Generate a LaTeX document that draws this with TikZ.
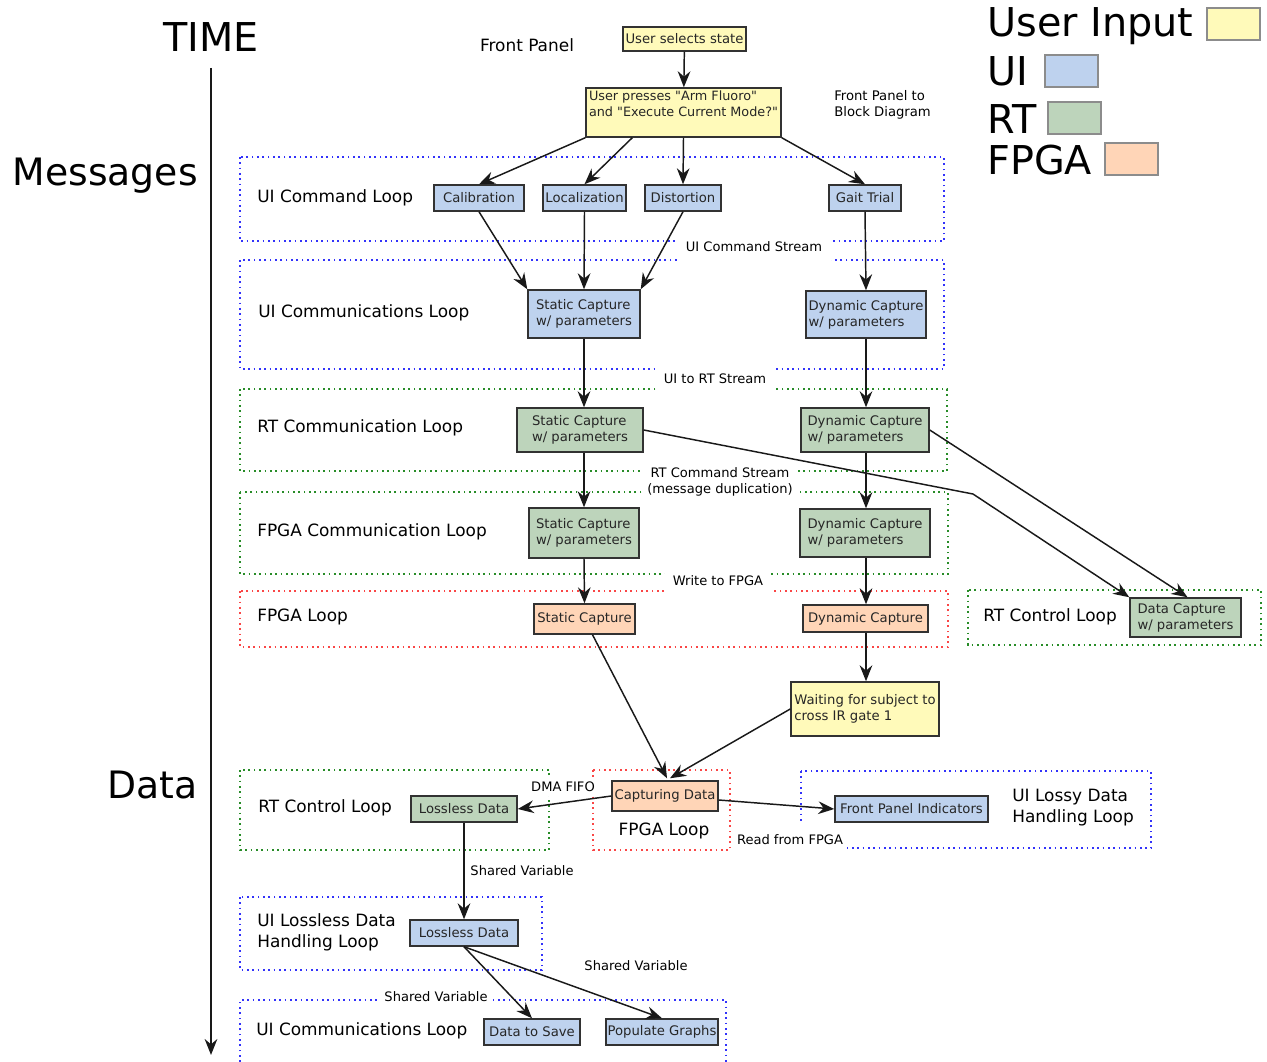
\documentclass[tikz,border=0pt]{standalone}
\usepackage{fontspec}
\setmainfont{DejaVu Sans}
\usetikzlibrary{arrows.meta,calc}

\definecolor{cyellow}{RGB}{255,250,186}
\definecolor{cblue}{RGB}{190,210,238}
\definecolor{cgreen}{RGB}{189,212,187}
\definecolor{corange}{RGB}{255,213,183}
\definecolor{dblue}{RGB}{50,50,250}
\definecolor{dgreen}{RGB}{40,140,40}
\definecolor{dred}{RGB}{250,70,70}
\definecolor{edge}{RGB}{50,50,50}

\newcommand{\boxfont}{\fontsize{9.9}{12}\selectfont}
\newcommand{\loopfont}{\fontsize{12.7}{15.8}\selectfont}
\newcommand{\streamfont}{\fontsize{9.8}{12}\selectfont}
\newcommand{\bigfont}{\fontsize{29.8}{34}\selectfont}
\newcommand{\midfont}{\fontsize{28.3}{34}\selectfont}

\tikzset{
  % place a node by its corner coordinates (x1,y1,x2,y2)
  span/.style n args={4}{at={({(#1+#3)/2},{(#2+#4)/2})},
    minimum width={(#3-#1)*0.75pt}, minimum height={(#4-#2)*0.75pt}},
  blk/.style={draw=edge, line width=1.1pt, inner sep=0pt, font=\boxfont, text=black!85, align=left},
  ybox/.style={blk, fill=cyellow},
  ubox/.style={blk, fill=cblue},
  rbox/.style={blk, fill=cgreen},
  fbox/.style={blk, fill=corange},
  loopline/.style={line width=1.3pt, dash pattern=on 1.3pt off 2.7pt},
  uiloop/.style={loopline, draw=dblue},
  rtloop/.style={loopline, draw=dgreen},
  fploop/.style={loopline, draw=dred},
  looplabel/.style={font=\loopfont, inner sep=0pt, anchor=west, align=left},
  stream/.style={font=\streamfont, fill=white, inner sep=0pt, align=center},
  tip/.style={-{Stealth[length=12pt,width=9.5pt,inset=4pt]}},
  flow/.style={draw=black!90, line width=1.1pt, tip},
  legbox/.style={draw=black!45, line width=0.8pt},
}

\begin{document}
\begin{tikzpicture}[x=0.75pt,y=-0.75pt]
\useasboundingbox (0,0) rectangle (1267,1062);

% ---------- time axis and section headings ----------
\node[font=\bigfont, inner sep=0pt, anchor=base] (time) at (211,52) {TIME};
\node[font=\midfont, inner sep=0pt, anchor=base east] (msg) at (198,186) {Messages};
\node[font=\midfont, inner sep=0pt, anchor=base east] (data) at (198,798) {Data};
\coordinate (t0) at (211,68);
\coordinate (t1) at (211,1055);
\draw[flow] (t0) -- (t1);

% ---------- legend ----------
\node[font=\bigfont, inner sep=0pt, anchor=base west] (lgU) at (987,37) {User Input};
\node[font=\bigfont, inner sep=0pt, anchor=base west] (lgI) at (987,86) {UI};
\node[font=\bigfont, inner sep=0pt, anchor=base west] (lgR) at (987,134) {RT};
\node[font=\bigfont, inner sep=0pt, anchor=base west] (lgF) at (987,175) {FPGA};
\draw[legbox, fill=cyellow] (1207,8) rectangle (1260,40);
\draw[legbox, fill=cblue] (1045,55) rectangle (1098,87);
\draw[legbox, fill=cgreen] (1048,102) rectangle (1101,134);
\draw[legbox, fill=corange] (1105,143) rectangle (1158,175);

% ---------- loop containers ----------
\draw[uiloop] (240,157) rectangle (944,241);
\draw[uiloop] (240,260) rectangle (944,369);
\draw[rtloop] (240,389) rectangle (947,471);
\draw[rtloop] (240,492) rectangle (948,574);
\draw[fploop] (240,591) rectangle (948,647);
\draw[rtloop] (968,590) rectangle (1261,645);
\draw[rtloop] (240,770) rectangle (549,850);
\draw[fploop] (593,770) rectangle (730,850);
\draw[uiloop] (801,771) rectangle (1151,848);
\draw[uiloop] (240,897) rectangle (542,970);
\draw[uiloop] (240,1062) -- (240,1000) -- (726,1000) -- (726,1062);

% ---------- stream labels between loops ----------
\node[stream, minimum width=116pt, minimum height=27pt] (s1) at (754,247) {UI Command Stream};
\node[stream, minimum width=87pt, minimum height=22.5pt] (s2) at (715,379) {UI to RT Stream};
\node[stream, minimum width=115.5pt, minimum height=26pt] (s3) at (720,482) {RT Command Stream\\(message duplication)};
\node[stream, minimum width=79pt, minimum height=22.5pt] (s4) at (718,581) {Write to FPGA};
\node[stream, minimum width=86pt, minimum height=24pt] (s5) at (790,840) {Read from FPGA};
\node[stream, minimum width=85.5pt, minimum height=18pt] (s6) at (436,997) {Shared Variable};
\node[stream, inner xsep=3pt, inner ysep=3pt] (s7) at (563,787) {DMA FIFO};
\node[stream, fill=none] (s8) at (522,871) {Shared Variable};
\node[stream, fill=none] (s9) at (636,966) {Shared Variable};

% ---------- loop labels ----------
\node[font=\loopfont, inner sep=0pt] (fp) at (527,45) {Front Panel};
\node[font=\boxfont, inner sep=0pt, anchor=west, align=left] (fp2bd) at (834,105) {Front Panel to\\Block Diagram};
\node[looplabel] (l1) at (257,198) {UI Command Loop};
\node[looplabel] (l2) at (258,313) {UI Communications Loop};
\node[looplabel] (l3) at (257,428) {RT Communication Loop};
\node[looplabel] (l4) at (257,532) {FPGA Communication Loop};
\node[looplabel] (l5) at (257,617) {FPGA Loop};
\node[looplabel] (l6) at (983,617) {RT Control Loop};
\node[looplabel] (l7) at (258,808) {RT Control Loop};
\node[font=\loopfont, inner sep=0pt] (l8) at (664,831) {FPGA Loop};
\node[looplabel] (l9) at (1012,808) {UI Lossy Data\\Handling Loop};
\node[looplabel] (l10) at (257,932) {UI Lossless Data\\Handling Loop};
\node[looplabel] (l11) at (256,1031) {UI Communications Loop};

% ---------- blocks ----------
\node[ybox, span={623}{27}{746}{51}] (sel) {User selects state};
\node[ybox, span={586}{88}{781}{137}, font=\fontsize{9.6}{12}\selectfont] (press) {User presses \textquotedbl Arm Fluoro\textquotedbl\\and \textquotedbl Execute Current Mode?\textquotedbl\\[1pt]\mbox{}};
\node[ubox, span={434}{185}{524}{211}] (cal) {Calibration};
\node[ubox, span={543}{185}{626}{211}] (loc) {Localization};
\node[ubox, span={645}{185}{721}{211}] (dist) {Distortion};
\node[ubox, span={829}{185}{901}{211}] (gait) {Gait Trial};

\node[ubox, span={528}{290}{640}{338}] (sUI) {Static Capture\\w/ parameters};
\node[ubox, span={806}{291}{926}{338}] (dUI) {Dynamic Capture\\w/ parameters};
\node[rbox, span={517}{408}{643}{452}] (sRT) {Static Capture\\w/ parameters};
\node[rbox, span={801}{408}{929}{452}] (dRT) {Dynamic Capture\\w/ parameters};
\node[rbox, span={529}{508}{639}{558}] (sFC) {Static Capture\\w/ parameters};
\node[rbox, span={800}{509}{930}{557}] (dFC) {Dynamic Capture\\w/ parameters};
\node[fbox, span={534}{604}{635}{634}] (sF) {Static Capture};
\node[fbox, span={803}{605}{928}{632}] (dF) {Dynamic Capture};
\node[rbox, span={1130}{598}{1241}{637}] (dcap) {Data Capture\\w/ parameters};
\node[ybox, span={791}{682}{939}{736}] (wait) {Waiting for subject to\\cross IR gate 1};

\node[fbox, span={612}{781}{718}{811}] (cap) {Capturing Data};
\node[rbox, span={411}{796}{517}{822}] (lossG) {Lossless Data};
\node[ubox, span={835}{796}{988}{822}] (fpi) {Front Panel Indicators};
\node[ubox, span={410}{920}{518}{946}] (lossU) {Lossless Data};
\node[ubox, span={484}{1019}{580}{1045}] (save) {Data to Save};
\node[ubox, span={606}{1019}{718}{1045}] (graphs) {Populate Graphs};

% ---------- connectors ----------
\draw[flow] (sel) -- (press);
\draw[flow] (press.south west) -- (cal.north);
\draw[flow] ($(press.south west)+(47,0)$) -- (loc.north);
\draw[flow] (press.south) -- (dist.north);
\draw[flow] (press.south east) -- (gait.north);

\draw[flow] (cal.south) -- (sUI.north west);
\draw[flow] (loc.south) -- (sUI.north);
\draw[flow] (dist.south) -- (sUI.north east);
\draw[flow] (gait.south) -- (dUI.north);

\draw[flow] (sUI.south) -- (sUI.south |- sRT.north);
\draw[flow] (dUI.south) -- (dUI.south |- dRT.north);
\draw[flow] (sUI.south |- sRT.south) -- (sFC.north);
\draw[flow] (dUI.south |- dRT.south) -- (dUI.south |- dFC.north);
\draw[flow] (sFC.south) -- (sF.north);
\draw[flow] (dUI.south |- dFC.south) -- (dUI.south |- dF.north);

\coordinate (bend) at (973,494);
\draw[flow] (sRT.east) -- (bend) -- (dcap.north west);
\draw[flow] (dRT.east) -- ($(dcap.north)+(2,0)$);

\draw[flow] (dUI.south |- dF.south) -- (dUI.south |- wait.north);
\draw[flow] ($(sF.south)+(8,0)$) -- ($(cap.north)+(2,-2)$);
\draw[flow] (wait.west) -- ($(cap.north)+(5,-2)$);

\draw[flow] (cap.west) -- (lossG.east);
\draw[flow] ($(cap.east)+(0,4)$) -- (fpi.west);
\draw[flow] (lossG.south) -- (lossU.north);
\draw[flow] (lossU.south) -- (save.north);
\draw[flow] (lossU.south) -- (graphs.north);
\end{tikzpicture}
\end{document}
